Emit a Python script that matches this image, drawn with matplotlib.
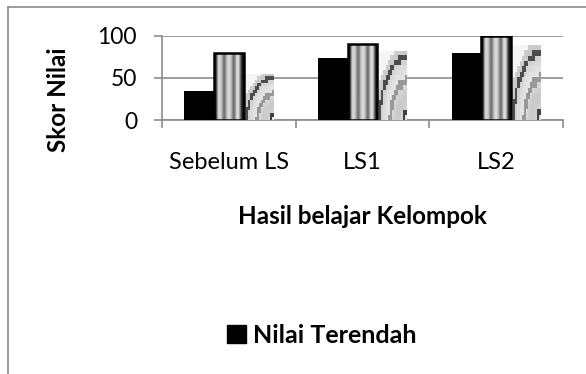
import numpy as np
import matplotlib
matplotlib.use("Agg")
import matplotlib.pyplot as plt
from matplotlib.lines import Line2D

# data
categories = ["Sebelum LS", "LS1", "LS2"]
nilai_terendah = [35, 74, 80]
nilai_tertinggi = [80, 90, 100]
rata_rata = [55, 82, 89]
y_ticks = [0, 50, 100]

plt.rcParams["font.family"] = ["Lato", "DejaVu Sans"]
GRID = "#8c8c8c"

fig = plt.figure(figsize=(5.86, 3.74), dpi=100)
ax = fig.add_axes([0.2765, 0.679, 0.6843, 0.225])

x = np.arange(len(categories))
w = 0.222

ax.bar(x - w, nilai_terendah, w, color="black", zorder=3)
stripe_bars = ax.bar(x, nilai_tertinggi, w, facecolor="none",
                     edgecolor="black", linewidth=1.8, zorder=4)
pic_bars = ax.bar(x + w, rata_rata, w, facecolor="none",
                  edgecolor="none", zorder=3)

# vertical gradient stripes for the second series
stripe = np.array([0.05, 0.3, 0.8, 0.85, 0.75, 0.5, 0.45, 0.7, 0.85, 0.85,
                   0.7, 0.45, 0.5, 0.8, 0.9, 0.6, 0.2, 0.05])
for b in stripe_bars:
    bx, bw, bh = b.get_x(), b.get_width(), b.get_height()
    im = ax.imshow(stripe[None, :], cmap="gray", vmin=0, vmax=1,
                   extent=[bx, bx + bw, 0, bh], aspect="auto",
                   interpolation="bilinear", zorder=3)
    im.set_clip_path(b)

# coarse picture-like texture for the third series
n = 14
u, v = np.meshgrid(np.linspace(0, 1, n), np.linspace(1, 0, n))
r = np.sqrt((1.05 - u) ** 2 + (v + 0.05) ** 2)
tex = 0.84 + 0.05 * np.cos(r * 9)
tex[np.abs(r - 0.98) < 0.05] = 0.3
tex[np.abs(r - 0.6) < 0.07] = 0.6
tex[np.abs(r - 0.15) < 0.05] = 0.25
tex[r > 1.15] = 0.96
for b in pic_bars:
    bx, bw, bh = b.get_x(), b.get_width(), b.get_height()
    im = ax.imshow(tex, cmap="gray", vmin=0, vmax=1,
                   extent=[bx, bx + bw, 0, bh], aspect="auto",
                   interpolation="nearest", zorder=3)
    im.set_clip_path(b)

ax.set_xlim(-0.5, len(categories) - 0.5)
ax.set_ylim(0, 100)
ax.set_yticks(y_ticks)
ax.yaxis.grid(True, color=GRID, linewidth=1.2, zorder=0)
ax.set_axisbelow(True)

for s in ["top", "right"]:
    ax.spines[s].set_visible(False)
for s in ["left", "bottom"]:
    ax.spines[s].set_color(GRID)
    ax.spines[s].set_linewidth(1.2)

ax.set_xticks(x)
ax.set_xticklabels(categories)
ax.set_xticks(np.arange(len(categories) + 1) - 0.5, minor=True)
ax.tick_params(axis="x", which="major", length=0, pad=23, labelsize=17)
ax.tick_params(axis="x", which="minor", length=6, color=GRID, width=1.2,
               direction="out")
ax.tick_params(axis="y", length=6, color=GRID, width=1.2, pad=12,
               labelsize=16.5)

fig.text(0.618, 0.42, "Hasil belajar Kelompok", ha="center", va="center",
         fontsize=17.5, fontweight="bold")
fig.text(0.1, 0.733, "Skor Nilai", rotation=90, ha="center", va="center",
         fontsize=17.5, fontweight="bold")

handle = plt.Rectangle((0, 0), 1, 1, color="black")
fig.legend([handle], ["Nilai Terendah"], loc="center left",
           bbox_to_anchor=(0.37, 0.104), frameon=False, handlelength=0.75,
           handleheight=0.75, handletextpad=0.3, borderaxespad=0,
           prop={"weight": "bold", "size": 18})

# outer chart frame (top and left edges visible)
fig.add_artist(Line2D([8 / 586, 1], [1 - 7 / 374, 1 - 7 / 374],
                      transform=fig.transFigure, color=GRID, linewidth=1.2))
fig.add_artist(Line2D([8 / 586, 8 / 586], [0, 1 - 7 / 374],
                      transform=fig.transFigure, color=GRID, linewidth=1.2))

fig.savefig("out.png", dpi=100)
